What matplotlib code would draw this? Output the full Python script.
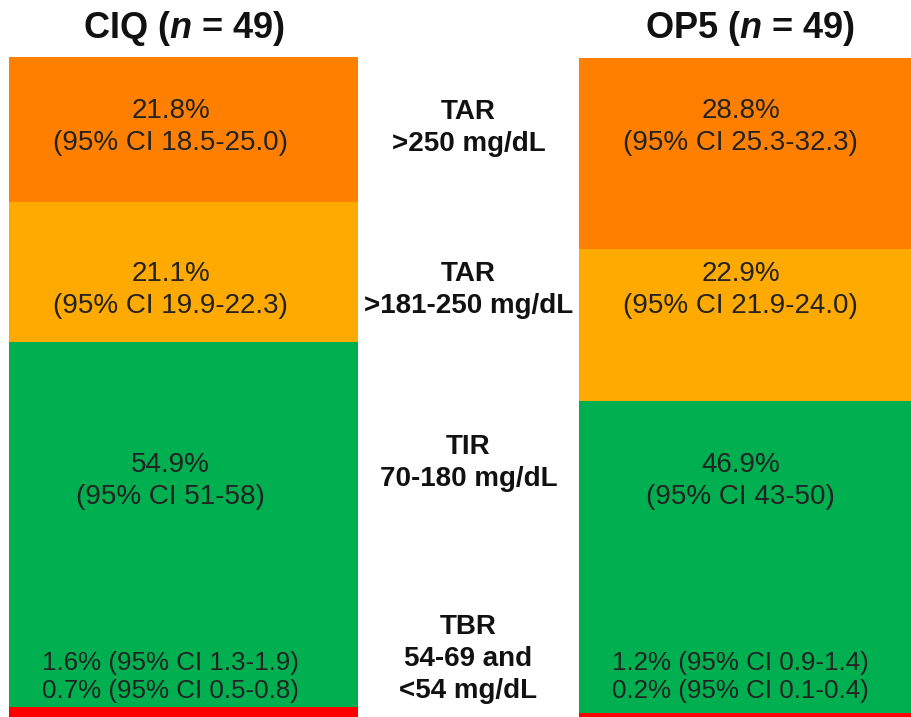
import matplotlib
matplotlib.use("Agg")
import matplotlib.pyplot as plt
from matplotlib.transforms import blended_transform_factory, offset_copy

plt.rcParams['font.family'] = ['Liberation Sans', 'DejaVu Sans']
plt.rcParams['mathtext.fontset'] = 'custom'
plt.rcParams['mathtext.it'] = 'Liberation Sans:bold:italic'
plt.rcParams['mathtext.rm'] = 'Liberation Sans:bold'

# ---- data ----
groups = ['CIQ', 'OP5']
n_patients = [49, 49]
tbr_lt54 = [0.7, 0.2]
tbr_54_69 = [1.6, 1.2]
tir = [54.9, 46.9]
tar_181_250 = [21.1, 22.9]
tar_gt250 = [21.8, 28.8]

ci_tar_gt250 = ['18.5-25.0', '25.3-32.3']
ci_tar_181_250 = ['19.9-22.3', '21.9-24.0']
ci_tir = ['51-58', '43-50']
ci_tbr_54_69 = ['1.3-1.9', '0.9-1.4']
ci_tbr_lt54 = ['0.5-0.8', '0.1-0.4']

range_labels = ['TAR\n>250 mg/dL', 'TAR\n>181-250 mg/dL', 'TIR\n70-180 mg/dL',
                'TBR\n54-69 and\n<54 mg/dL']

colors = {'gt250': '#FF8000', '181_250': '#FFAA00', 'tir': '#00B050',
          '54_69': '#FF0000', 'lt54': '#FF0000'}

W, H = 912, 717
fig = plt.figure(figsize=(W / 100, H / 100), dpi=100)
ax = fig.add_axes([0, 0, 1, 660 / H])

x = [0, 1]
width = 0.612
bottom = [0.0, 0.0]
for vals, key in [(tbr_lt54, 'lt54'), (tbr_54_69, '54_69'), (tir, 'tir'),
                  (tar_181_250, '181_250'), (tar_gt250, 'gt250')]:
    ax.bar(x, vals, width=width, bottom=bottom, color=colors[key], linewidth=0)
    bottom = [b + v for b, v in zip(bottom, vals)]

ax.set_xlim(-0.322, 1.278)
ax.set_ylim(0.8, max(bottom))
ax.axis('off')

tr = blended_transform_factory(ax.transData, fig.transFigure)
tr_bar = offset_copy(tr, fig=fig, x=-13, y=0, units='dots')

def fy(py):
    return 1 - py / H

txt_kw = dict(transform=tr_bar, ha='center', va='center', color='#222222',
              fontsize=20, linespacing=1.27)

# titles
for i, g in enumerate(groups):
    ax.text(x[i] - 0.006 * i, fy(29), g + r' ($\mathit{n}$ = ' + str(n_patients[i]) + ')',
            transform=tr, ha='center', va='center', fontsize=26,
            fontweight='bold', color='#111111', clip_on=False)

row_y = [127, 290, 481, 677]
for i in range(2):
    ax.text(x[i], fy(row_y[0]), f'{tar_gt250[i]}%\n(95% CI {ci_tar_gt250[i]})', **txt_kw)
    ax.text(x[i], fy(row_y[1]), f'{tar_181_250[i]}%\n(95% CI {ci_tar_181_250[i]})', **txt_kw)
    ax.text(x[i], fy(row_y[2]), f'{tir[i]}%\n(95% CI {ci_tir[i]})', **txt_kw)
    ax.text(x[i], fy(row_y[3]),
            f'{tbr_54_69[i]}% (95% CI {ci_tbr_54_69[i]})\n{tbr_lt54[i]}% (95% CI {ci_tbr_lt54[i]})',
            transform=tr_bar, ha='center', va='center', color='#222222',
            fontsize=18.7, linespacing=1.25)

mid_y = [128, 290, 463, 659]
for lab, yy in zip(range_labels, mid_y):
    ax.text(0.5, fy(yy), lab, transform=tr, ha='center', va='center',
            fontsize=20, fontweight='bold', color='#111111', linespacing=1.3)

fig.savefig('out.png', dpi=100)
